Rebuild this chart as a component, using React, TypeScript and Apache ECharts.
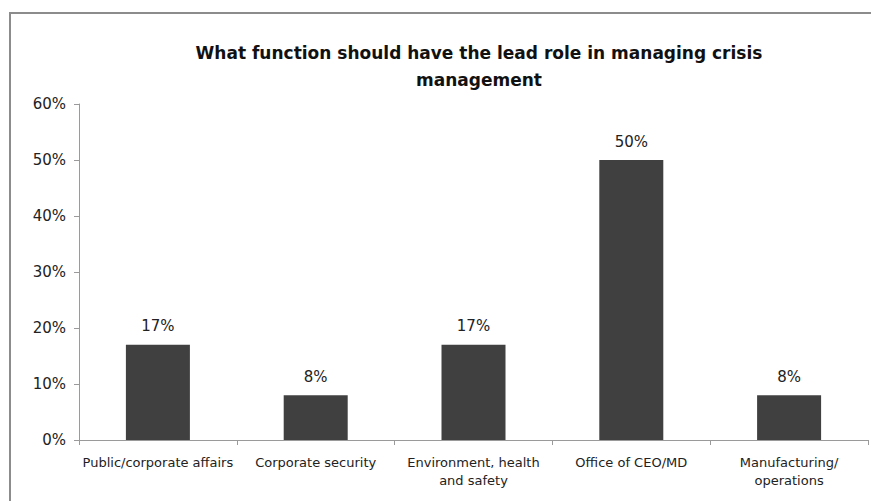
import React, { useEffect, useRef } from "react";
import * as echarts from "echarts";

const categories = [
  "Public/corporate affairs",
  "Corporate security",
  "Environment, health\nand safety",
  "Office of CEO/MD",
  "Manufacturing/\noperations",
];
const values = [17, 8, 17, 50, 8];
const titleText = "What function should have the lead role in managing crisis\nmanagement";

export default function App() {
  const ref = useRef<HTMLDivElement>(null);
  useEffect(() => {
    const chart = echarts.init(ref.current!, null, { renderer: "svg" });
    const font = "'DejaVu Sans', sans-serif";
    chart.setOption({
      animation: false,
      backgroundColor: "#ffffff",
      title: {
        text: titleText,
        left: 474,
        textAlign: "center",
        top: 34,
        textStyle: {
          fontFamily: font,
          fontSize: 17,
          fontWeight: "bold",
          color: "#111",
          lineHeight: 27,
        },
      },
      graphic: [
        {
          type: "polyline",
          shape: { points: [[10, 520], [10, 13], [880, 13]] },
          style: { stroke: "#8c8c8c", lineWidth: 2, fill: "none" },
        },
      ],
      grid: { left: 79, right: 3, top: 104, bottom: 61 },
      xAxis: {
        type: "category",
        data: categories,
        axisLine: { lineStyle: { color: "#9a9a9a", width: 1 } },
        axisTick: { show: true, alignWithLabel: false, length: 5, lineStyle: { color: "#9a9a9a" } },
        axisLabel: {
          fontFamily: font,
          fontSize: 13,
          color: "#222",
          margin: 13,
          lineHeight: 18,
          interval: 0,
        },
      },
      yAxis: {
        type: "value",
        min: 0,
        max: 60,
        interval: 10,
        splitLine: { show: false },
        axisLine: { show: true, lineStyle: { color: "#9a9a9a", width: 1 } },
        axisTick: { show: true, length: 5, lineStyle: { color: "#9a9a9a" } },
        axisLabel: {
          fontFamily: font,
          fontSize: 15,
          color: "#222",
          margin: 13,
          formatter: "{value}%",
        },
      },
      series: [
        {
          type: "bar",
          data: values,
          barWidth: 64,
          itemStyle: { color: "#404040" },
          label: {
            show: true,
            position: "top",
            distance: 11,
            formatter: "{c}%",
            fontFamily: font,
            fontSize: 15,
            color: "#222",
          },
        },
      ],
    });
    return () => chart.dispose();
  }, []);
  return (
    <div
      ref={ref}
      style={{ width: 871, height: 501, position: "fixed", left: 0, top: 0 }}
    />
  );
}
